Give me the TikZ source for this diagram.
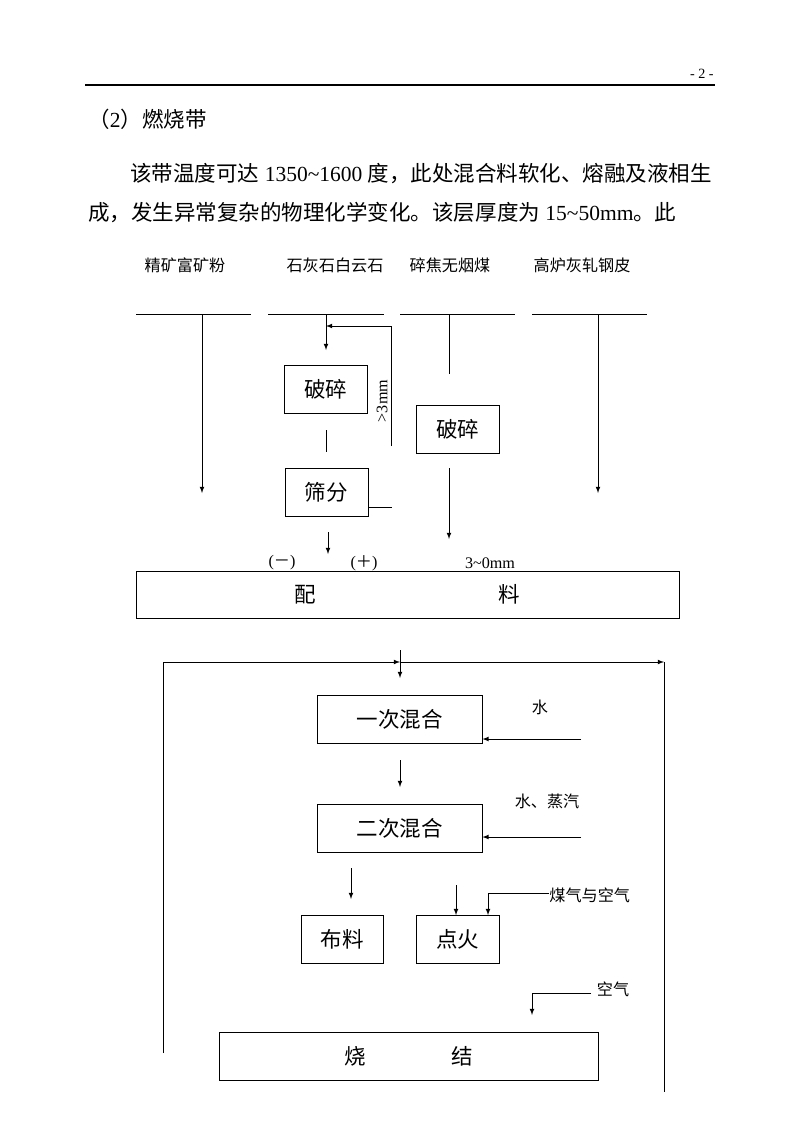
\documentclass[tikz,border=0pt]{standalone}
\usepackage{fontspec}
\setmainfont{Liberation Serif}
\newfontfamily\cjk{Noto Sans CJK SC}
\usetikzlibrary{arrows, calc, positioning}

\newcommand{\pix}{0.744pt}

\begin{document}
\begin{tikzpicture}[>=latex, x=\pix, y=-\pix, line width=0.6pt,
  proc/.style={draw, inner sep=0pt, minimum width=83*\pix, minimum height=48*\pix,
    font=\cjk\fontsize{16}{18}\selectfont},
  feed/.style={inner sep=0pt, font=\cjk\fontsize{12}{14}\selectfont},
  size/.style={inner sep=0pt, font=\fontsize{12}{14}\selectfont},
  body/.style={inner sep=0pt, anchor=west, font=\fontsize{16}{18}\selectfont}]

\fill[white] (0,0) rectangle (800,1131);
\useasboundingbox (0,0) rectangle (800,1131);

% page head and text
\coordinate (headL) at (85,85);
\coordinate (headR) at (715,85);
\draw[line width=0.8pt] (headL) -- (headR);
\node[anchor=east, inner sep=0pt, font=\fontsize{10.5}{12}\selectfont] (pageno) at (714,74) {- 2 -};
\node[body] (title) at (88,119) {{\cjk （}2{\cjk ）燃烧带}};
\node[body] (para1) at (130,174) {{\cjk 该带温度可达} 1350\textasciitilde1600 {\cjk 度，此处混合料软化、熔融及液相生}};
\node[body] (para2) at (88,213) {{\cjk 成，发生异常复杂的物理化学变化。该层厚度为} 15\textasciitilde50mm{\cjk 。此}};

% raw material bars
\foreach \i/\xl/\xr/\xv/\xt/\txt in {1/136/251/202/185/精矿富矿粉, 2/268/384/326/335/石灰石白云石,
    3/400/515/449/450/碎焦无烟煤, 4/532/647/598/582/高炉灰轧钢皮} {
  \coordinate (barL\i) at (\xl,314);
  \coordinate (barR\i) at (\xr,314);
  \coordinate (tap\i) at (\xv,314);
  \draw (barL\i) -- (barR\i);
  \node[feed] (src\i) at (\xt,265) {\txt};
};

\coordinate (end1) at (202,493);
\coordinate (end2) at (326,350);
\coordinate (end3) at (449,374);
\coordinate (end4) at (598,493);
\draw[->] (tap1) -- (end1);
\draw[->] (tap2) -- (end2);
\draw (tap3) -- (end3);
\draw[->] (tap4) -- (end4);

% limestone crushing and screening
\node[proc] (crushA) at (325.5,389.5) {破碎};
\node[proc] (screen) at (326.5,492) {筛分};
\node[proc] (crushB) at (457.5,429) {破碎};

\coordinate (backB) at (391,446);
\coordinate (backT) at (391,326);
\draw[->] (backB) -- (backT) -- (tap2 |- backT);
\node[size, rotate=90] (coarse) at (382,401) {>3mm};

\coordinate (linkT) at (326,430);
\coordinate (linkB) at (326,452);
\draw (linkT) -- (linkB);
\coordinate (overE) at (392,507);
\draw (screen.east |- overE) -- (overE);

\coordinate (underT) at (328,532);
\coordinate (underB) at (328,554);
\draw[->] (underT) -- (underB);
\coordinate (cokeT) at (449,468);
\coordinate (cokeB) at (449,539);
\draw[->] (cokeT) -- (cokeB);

\node[size] (minus) at (282,563) {({\cjk －})};
\node[size] (plus) at (364,563) {({\cjk ＋})};
\node[size] (fine) at (490,563) {3\textasciitilde0mm};

\node[proc, minimum width=543*\pix, minimum height=47*\pix] (batch) at (407.5,594.5) {配\hspace{136pt}料};

% return fines loop
\coordinate (loopL) at (163,662);
\coordinate (loopJ) at (400,662);
\coordinate (loopR) at (664,662);
\coordinate (loopLB) at (163,1053);
\coordinate (loopRB) at (664,1092);
\draw[->] (loopLB) -- (loopL) -- (loopJ);
\draw[->] (loopJ) -- (loopR);
\draw (loopR) -- (loopRB);
\coordinate (dropT) at (400,650);
\coordinate (dropB) at (400,678);
\draw[->] (dropT) -- (dropB);

% mixing
\node[proc, minimum width=165*\pix] (mix1) at (399.5,719) {一次混合};
\node[proc, minimum width=165*\pix] (mix2) at (399.5,828) {二次混合};
\node[feed] (water1) at (540,707) {水};
\node[feed] (water2) at (547,801) {水、蒸汽};
\coordinate (water1in) at (581,739);
\coordinate (water2in) at (581,837);
\draw[->] (water1in) -- (mix1.east |- water1in);
\draw[->] (water2in) -- (mix2.east |- water2in);
\coordinate (mixT) at (400,760);
\coordinate (mixB) at (400,787);
\draw[->] (mixT) -- (mixB);

% feeding and ignition
\node[proc, minimum width=82*\pix] (spread) at (342,939) {布料};
\node[proc] (ignite) at (457.5,939.5) {点火};
\coordinate (spreadT) at (351,868);
\coordinate (spreadB) at (351,899);
\draw[->] (spreadT) -- (spreadB);
\coordinate (igniteT) at (456,885);
\draw[->] (igniteT) -- (ignite.north -| igniteT);
\node[feed, anchor=west] (gas) at (549,895) {煤气与空气};
\coordinate (gasK) at (488,893);
\draw[->] (gas.west |- gasK) -- (gasK) -- (ignite.north -| gasK);

\node[feed] (air) at (613,989) {空气};
\coordinate (airS) at (591,993);
\coordinate (airK) at (532,993);
\coordinate (airE) at (532,1015);
\draw[->] (airS) -- (airK) -- (airE);

% sintering
\node[proc, minimum width=379*\pix] (sinter) at (408.5,1056) {烧\hspace{63.6pt}结};

\end{tikzpicture}
\end{document}
